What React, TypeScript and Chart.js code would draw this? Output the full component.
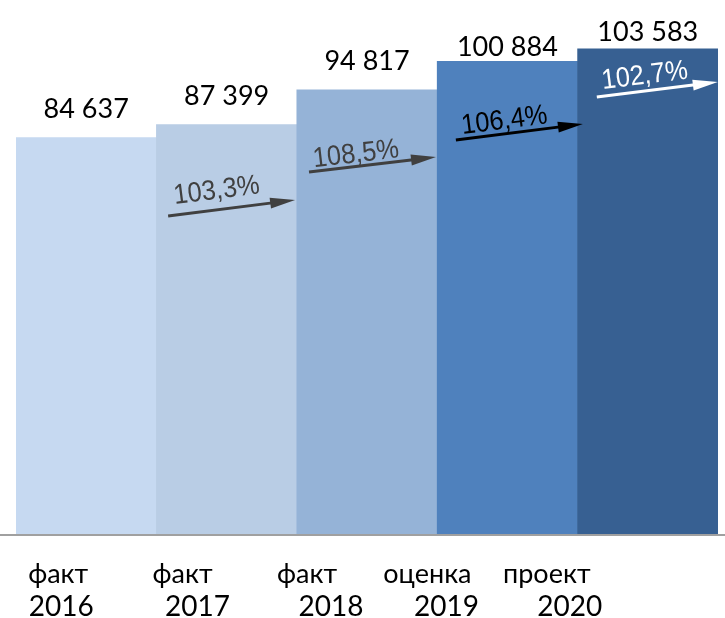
import React, { useEffect, useRef } from "react";
import { Chart, registerables } from "chart.js";

Chart.register(...registerables);

// ---- data ----
const statusLabels = ["факт", "факт", "факт", "оценка", "проект"];
const years = ["2016", "2017", "2018", "2019", "2020"];
const values = [84637, 87399, 94817, 100884, 103583];

// ---- styling ----
const barColors = ["#C6D9F1", "#B9CDE5", "#95B3D7", "#4F81BD", "#376092"];
const arrowColors = ["#404040", "#404040", "#000000", "#FFFFFF"];
const valueLabelGap = [20, 20, 20, 5, 8];
const statusDx = [-28, -44, -60, -80, -101];
const yearDx = [-25, -29, -36, -61, -78];
// arrow geometry (x offsets from the target bar's centre, y in value units)
const arrowStartDx = [-58.5, -58, -51.5, -51];
const arrowEndDx = [68.5, 69, 75.5, 70];
const arrowStartY = [67890, 77280, 84110, 93290];
const arrowEndY = [71300, 80480, 87530, 96490];
const growthLabelDx = [-10, -11, -3, -3];
const growthLabelY = [73225, 81018, 88170, 97776];

const Y_MAX = 114000;
const LABEL_FONT = "Lato, 'Open Sans', sans-serif";
const PCT_FONT = "'Liberation Sans', Arial, sans-serif";

function fmt(v: number): string {
  return String(v).replace(/\B(?=(\d{3})+(?!\d))/g, " ");
}

const overlay = {
  id: "overlay",
  afterDatasetsDraw(chart: any) {
    const ctx = chart.ctx as CanvasRenderingContext2D;
    const xs = chart.scales.x;
    const ys = chart.scales.y;
    const area = chart.chartArea;
    ctx.save();

    // baseline
    ctx.strokeStyle = "#A0A0A0";
    ctx.lineWidth = 2;
    ctx.beginPath();
    ctx.moveTo(0, area.bottom + 1);
    ctx.lineTo(chart.width, area.bottom + 1);
    ctx.stroke();

    // value labels
    ctx.fillStyle = "#000";
    ctx.font = `27px ${LABEL_FONT}`;
    ctx.textAlign = "center";
    ctx.textBaseline = "alphabetic";
    values.forEach((v, i) => {
      const x = xs.getPixelForValue(i);
      const y = ys.getPixelForValue(v);
      ctx.fillText(fmt(v), x, y - valueLabelGap[i]);
    });

    // category labels
    ctx.font = `27px ${LABEL_FONT}`;
    statusLabels.forEach((s, i) => {
      const x = xs.getPixelForValue(i);
      ctx.fillText(s, x + statusDx[i], area.bottom + 49);
    });
    ctx.font = `28px ${LABEL_FONT}`;
    years.forEach((s, i) => {
      const x = xs.getPixelForValue(i);
      ctx.fillText(s, x + yearDx[i], area.bottom + 82);
    });

    // growth arrows
    for (let i = 0; i < values.length - 1; i++) {
      const cx = xs.getPixelForValue(i + 1);
      const x1 = cx + arrowStartDx[i];
      const y1 = ys.getPixelForValue(arrowStartY[i]);
      const x2 = cx + arrowEndDx[i];
      const y2 = ys.getPixelForValue(arrowEndY[i]);
      const ang = Math.atan2(y2 - y1, x2 - x1);
      const headLen = 25;
      const headHalf = 5.5;
      const color = arrowColors[i];
      const bx = x2 - headLen * Math.cos(ang);
      const by = y2 - headLen * Math.sin(ang);
      ctx.strokeStyle = color;
      ctx.fillStyle = color;
      ctx.lineWidth = 3;
      ctx.lineCap = "butt";
      ctx.beginPath();
      ctx.moveTo(x1, y1);
      ctx.lineTo(bx + 2 * Math.cos(ang), by + 2 * Math.sin(ang));
      ctx.stroke();
      ctx.beginPath();
      ctx.moveTo(x2, y2);
      ctx.lineTo(bx - headHalf * Math.sin(ang), by + headHalf * Math.cos(ang));
      ctx.lineTo(bx + headHalf * Math.sin(ang), by - headHalf * Math.cos(ang));
      ctx.closePath();
      ctx.fill();

      const pct = ((values[i + 1] / values[i]) * 100).toFixed(1).replace(".", ",") + "%";
      const lx = cx + growthLabelDx[i];
      const ly = ys.getPixelForValue(growthLabelY[i]);
      ctx.save();
      ctx.translate(lx, ly);
      ctx.rotate(ang);
      ctx.scale(0.91, 1);
      ctx.font = `28px ${PCT_FONT}`;
      ctx.textAlign = "center";
      ctx.textBaseline = "middle";
      ctx.fillText(pct, 0, 0);
      ctx.restore();
    }

    ctx.restore();
  },
};

export default function App() {
  const ref = useRef<HTMLCanvasElement>(null);
  useEffect(() => {
    if (!ref.current) return;
    const chart = new Chart(ref.current, {
      type: "bar",
      data: {
        labels: years,
        datasets: [
          {
            data: values,
            backgroundColor: barColors,
            borderWidth: 0,
            barPercentage: 1,
            categoryPercentage: 1,
          },
        ],
      },
      options: {
        responsive: false,
        animation: false,
        events: [],
        layout: { padding: { left: 16, right: 7, top: 0, bottom: 84 } },
        plugins: {
          legend: { display: false },
          tooltip: { enabled: false },
          title: { display: false },
        },
        scales: {
          x: { display: false },
          y: { display: false, min: 0, max: Y_MAX },
        },
      },
      plugins: [overlay],
    } as any);
    const fonts = (document as any).fonts;
    if (fonts && fonts.load) {
      Promise.all([
        fonts.load(`27px Lato`),
        fonts.load(`25px "Liberation Sans"`),
      ])
        .then(() => chart.draw())
        .catch(() => {});
    }
    return () => chart.destroy();
  }, []);
  return (
    <div
      style={{
        position: "absolute",
        left: 0,
        top: 0,
        width: 725,
        height: 618,
        background: "#fff",
      }}
    >
      <canvas ref={ref} width={725} height={618} style={{ display: "block" }} />
    </div>
  );
}
